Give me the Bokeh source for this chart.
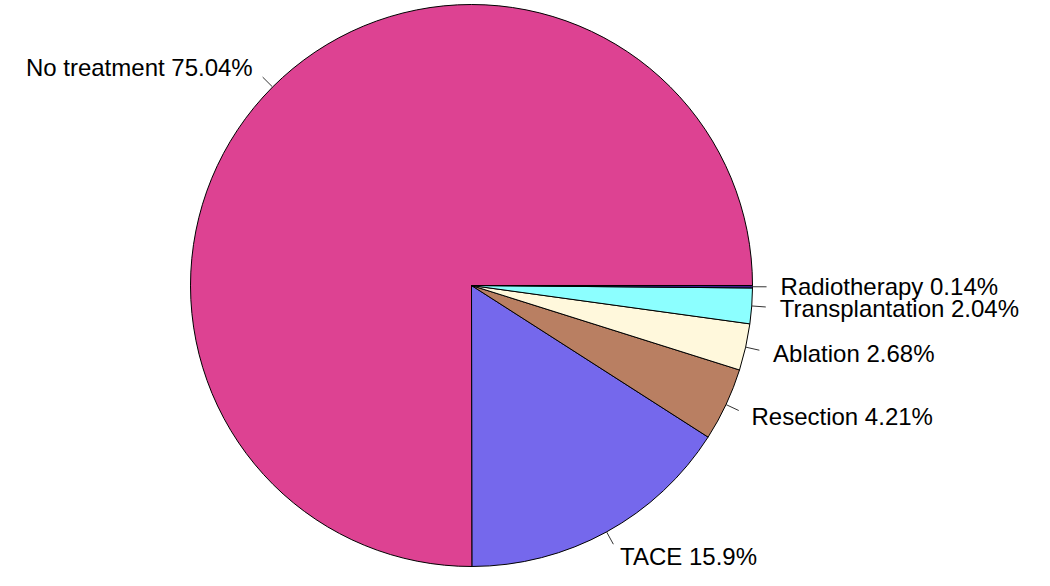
import numpy as np
from bokeh.plotting import figure
from bokeh.models import Range1d
from bokeh.core.properties import value
from bokeh.embed import file_html
from bokeh.resources import INLINE

# Data
categories = ["No treatment", "TACE", "Resection", "Ablation", "Transplantation", "Radiotherapy"]
percents = [75.04, 15.9, 4.21, 2.68, 2.04, 0.14]
labels = ["No treatment 75.04%", "TACE 15.9%", "Resection 4.21%", "Ablation 2.68%",
          "Transplantation 2.04%", "Radiotherapy 0.14%"]
colors = ["#DD4292", "#7568EC", "#B97F62", "#FFF8DC", "#8CFFFF", "#3F1C8C"]

W, H = 1034, 570
p = figure(width=W, height=H, output_backend="svg", toolbar_location=None,
           x_range=Range1d(0, W), y_range=Range1d(0, H),
           x_axis_location=None, y_axis_location=None, min_border=0)
p.grid.visible = False
p.outline_line_color = None

cx, cy, r = 471, H - 285, 281
vals = np.array(percents, dtype=float)
frac = vals / vals.sum()
ends = 2 * np.pi * np.cumsum(frac)
starts = np.concatenate([[0.0], ends[:-1]])
mids = (starts + ends) / 2

p.wedge(x=cx, y=cy, radius=r, start_angle=list(starts), end_angle=list(ends),
        direction="anticlock", fill_color=colors, line_color="black", line_width=1)

cosm, sinm = np.cos(mids), np.sin(mids)
p.segment(x0=list(cx + r * cosm), y0=list(cy + r * sinm),
          x1=list(cx + 1.05 * r * cosm), y1=list(cy + 1.05 * r * sinm),
          line_color="#333333", line_width=1)

aligns = ["right" if c < 0 else "left" for c in cosm]
p.text(x=list(cx + 1.1 * r * cosm), y=list(cy + 1.1 * r * sinm), text=labels,
       text_align=aligns, text_baseline="middle", text_font=value("Liberation Sans"),
       text_font_size="24px", text_color="black")

open("out.html", "w").write(file_html(p, INLINE))
